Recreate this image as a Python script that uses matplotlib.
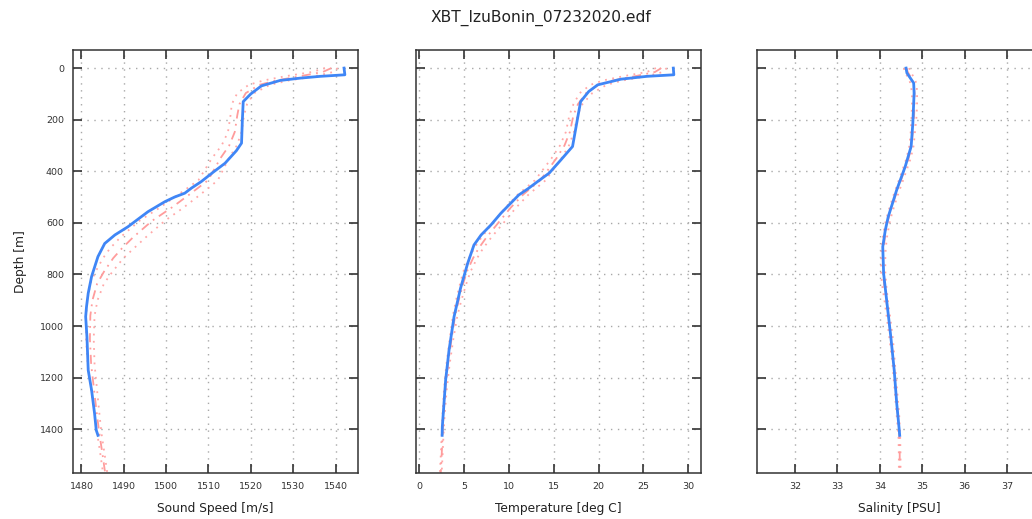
import numpy as np
import matplotlib
matplotlib.use('Agg')
import matplotlib.pyplot as plt

# XBT cast (blue)
ss_depth = [0, 26, 32, 39, 48, 69, 100, 130, 200, 291, 320, 349, 369, 405, 440, 465, 485, 500, 518, 557, 615,
            647, 680, 731, 808, 873, 925, 964, 1042, 1171, 1249, 1339, 1404, 1424]
ss_xbt = [1542.0, 1542.2, 1536.4, 1531.6, 1526.9, 1522.5, 1520.0, 1518.2, 1518.0, 1517.8, 1516.6, 1515.0,
          1513.9, 1511.0, 1508.3, 1506.0, 1504.4, 1502.0, 1499.7, 1495.7, 1491.0, 1487.9, 1485.5, 1483.9,
          1482.4, 1481.6, 1481.2, 1481.0, 1481.3, 1481.6, 1482.4, 1483.1, 1483.5, 1483.9]

t_depth = [0, 26, 32, 43, 65, 91, 130, 187, 265, 304, 356, 407, 440, 466, 492, 524, 563, 608, 647, 686,
           757, 854, 964, 1094, 1210, 1391, 1424]
t_xbt = [28.34, 28.4, 25.4, 22.5, 19.9, 18.9, 18.0, 17.7, 17.3, 17.1, 15.8, 14.5, 13.2, 12.2, 11.1, 10.2,
         9.1, 8.0, 6.9, 6.1, 5.4, 4.6, 3.88, 3.32, 2.94, 2.57, 2.55]

sal_depth = [0, 19, 58, 97, 214, 304, 382, 472, 576, 628, 693, 796, 912, 1042, 1171, 1301, 1404, 1424]
sal_xbt = [34.62, 34.64, 34.80, 34.81, 34.78, 34.74, 34.60, 34.40, 34.20, 34.13, 34.07, 34.09, 34.17,
           34.26, 34.34, 34.40, 34.46, 34.47]

# climatology mean and std (red)
clim_depth = [0, 15, 32, 48, 65, 97, 140, 183, 248, 300, 350, 435, 490, 541, 592, 656, 700, 737, 790, 836,
              900, 960, 1050, 1150, 1250, 1350, 1424, 1500, 1570]
ss_mean = [1539.0, 1537.0, 1531.5, 1526.0, 1522.0, 1518.8, 1517.3, 1516.8, 1516.2, 1514.9, 1512.8, 1509.9,
           1505.5, 1501.3, 1496.7, 1492.2, 1489.5, 1487.5, 1485.3, 1483.7, 1482.6, 1482.1, 1482.0, 1482.3,
           1483.0, 1483.7, 1484.3, 1485.0, 1485.6]
ss_std = [1.5, 2.5, 3.5, 3.0, 2.5, 2.0, 1.8, 1.6, 1.6, 1.8, 2.0, 2.3, 2.6, 2.8, 3.0, 3.0, 2.8, 2.4, 2.0, 1.6,
          1.2, 1.0, 0.9, 0.8, 0.7, 0.6, 0.5, 0.5, 0.5]
t_mean = [27.0, 26.3, 24.0, 21.6, 20.0, 18.6, 17.7, 17.2, 16.8, 16.2, 15.3, 13.5, 11.6, 10.2, 9.0, 7.5, 6.6,
          6.0, 5.3, 4.9, 4.4, 4.0, 3.6, 3.2, 2.9, 2.7, 2.6, 2.5, 2.4]
t_std = [0.6, 0.9, 1.3, 1.1, 0.9, 0.7, 0.5, 0.45, 0.45, 0.5, 0.55, 0.6, 0.6, 0.6, 0.6, 0.55, 0.5, 0.45, 0.4,
         0.35, 0.3, 0.25, 0.2, 0.18, 0.15, 0.12, 0.1, 0.1, 0.1]
sal_mean = [34.63, 34.66, 34.72, 34.77, 34.80, 34.82, 34.82, 34.81, 34.78, 34.75, 34.68, 34.50, 34.38, 34.28,
            34.19, 34.12, 34.09, 34.08, 34.08, 34.10, 34.15, 34.20, 34.27, 34.33, 34.38, 34.43, 34.46, 34.47,
            34.47]
sal_std = [0.06, 0.07, 0.07, 0.07, 0.07, 0.06, 0.06, 0.06, 0.05, 0.05, 0.05, 0.05, 0.05, 0.05, 0.05, 0.05,
           0.05, 0.05, 0.05, 0.05, 0.04, 0.04, 0.04, 0.03, 0.03, 0.03, 0.02, 0.02, 0.02]

xlabels = ['Sound Speed [m/s]', 'Temperature [deg C]', 'Salinity [PSU]']
xticks = [[1480, 1490, 1500, 1510, 1520, 1530, 1540], [0, 5, 10, 15, 20, 25, 30], [32, 33, 34, 35, 36, 37]]
xlims = [(1478.0, 1545.3), (-0.4, 31.4), (31.1, 37.83)]
depth_ticks = [0, 200, 400, 600, 800, 1000, 1200, 1400]

fig = plt.figure(figsize=(10.32, 5.19), dpi=100)
lefts = [0.0707, 0.4028, 0.7335]

blue = '#3f86f6'
red = '#ff9c9c'

panels = [(ss_depth, ss_xbt, ss_mean, ss_std),
          (t_depth, t_xbt, t_mean, t_std),
          (sal_depth, sal_xbt, sal_mean, sal_std)]

for i, (d, x, m, s) in enumerate(panels):
    ax = fig.add_axes([lefts[i], 0.0886, 0.2762, 0.815])
    m = np.array(m)
    s = np.array(s)
    ax.plot(m - s, clim_depth, color='#ffa8a8', lw=1.3, linestyle=(0, (1, 3)))
    ax.plot(m + s, clim_depth, color='#ffa8a8', lw=1.3, linestyle=(0, (1, 3)))
    ax.plot(m, clim_depth, color=red, lw=1.3, linestyle=(0, (5, 3, 1, 3)))
    ax.plot(x, d, color=blue, lw=2.0, solid_joinstyle='round')

    ax.set_xlim(xlims[i])
    ax.set_ylim(1570, -70)
    ax.set_xticks(xticks[i])
    ax.set_yticks(depth_ticks)
    ax.grid(True, color='#a8a8a8', linestyle=(0, (1, 4)), lw=1.0)
    ax.tick_params(direction='in', length=6.5, width=1.2, top=True, right=True, labelsize=6.8,
                   pad=6.5, colors='#333333')
    for sp in ax.spines.values():
        sp.set_color('#333333')
        sp.set_linewidth(1.1)
    ax.set_xlabel(xlabels[i], fontsize=8.8, labelpad=8, color='#222222')
    if i == 0:
        ax.set_ylabel('Depth [m]', fontsize=8.8, labelpad=9, color='#222222')
    else:
        ax.tick_params(labelleft=False)

fig.text(541 / 1032, 1 - 18 / 519, 'XBT_IzuBonin_07232020.edf', ha='center', va='center', fontsize=11.2,
         color='#222222')

plt.savefig('out.png', dpi=100)
